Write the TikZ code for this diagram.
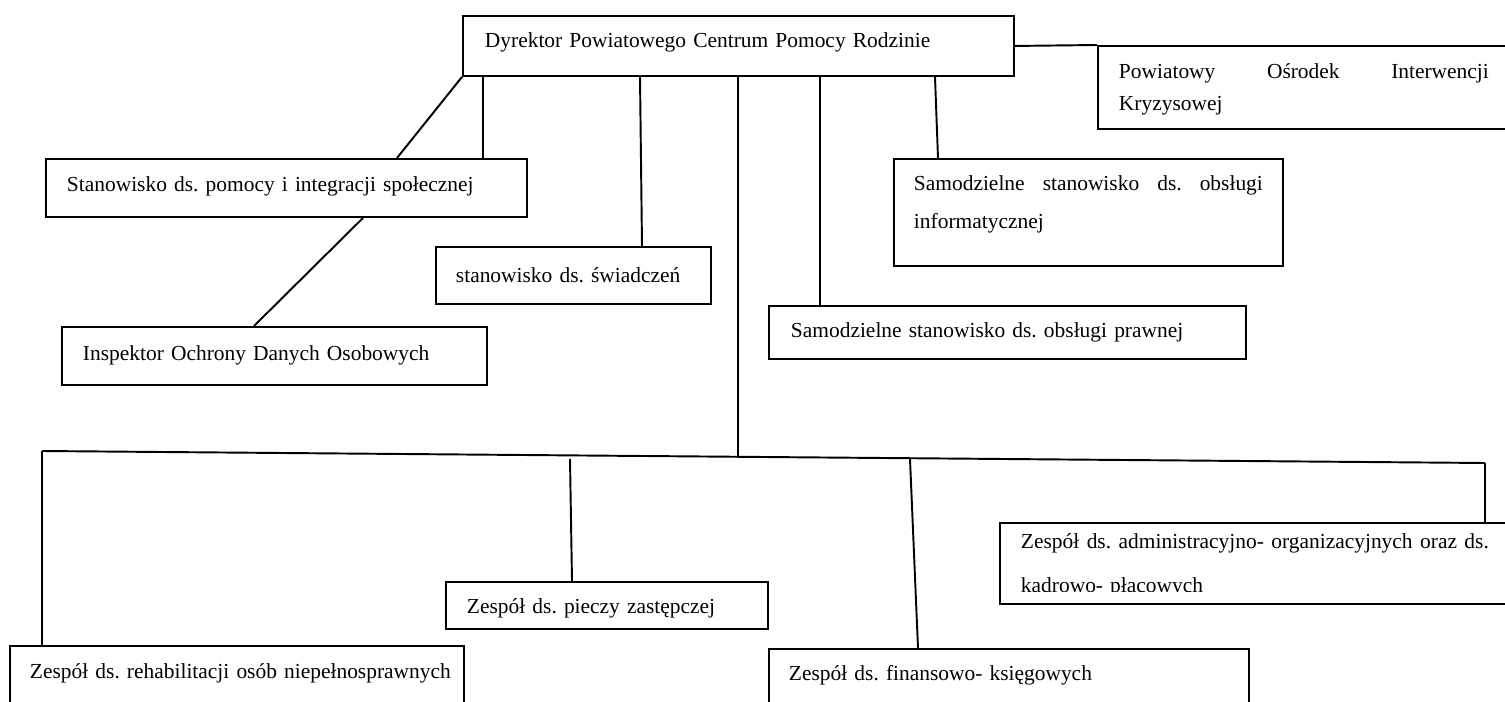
\documentclass[tikz,border=0pt]{standalone}
\usepackage{fontspec}
\setmainfont{Liberation Serif}
\usepackage{tikz}
\frenchspacing

\begin{document}
\begin{tikzpicture}[x=0.02cm,y=-0.02cm,line width=1.1pt,
    box/.style={draw,anchor=north west,inner ysep=0pt,font=\fontsize{12.2}{15}\selectfont}]
    \useasboundingbox (0,0) rectangle (1505,702);

    % upper level
    \node[box,inner xsep=0.44cm,text width=10.14cm,text height=0.64cm,text depth=0.56cm] (dyr) at (462,15) {Dyrektor Powiatowego Centrum Pomocy Rodzinie};
    \node[box,inner xsep=0.42cm,text width=7.4cm,text height=0.66cm,text depth=1.0cm,font=\fontsize{12.2}{18.2}\selectfont] (poik) at (1097,45) {Powiatowy\hfill Ośrodek\hfill Interwencji\\Kryzysowej};
    \node[box,inner xsep=0.42cm,text width=8.78cm,text height=0.66cm,text depth=0.5cm] (stpom) at (45,158) {Stanowisko ds. pomocy i integracji społecznej};
    \node[box,inner xsep=0.42cm,text width=7.66cm,text height=0.68cm,text depth=0.48cm] (insp) at (61,326) {Inspektor Ochrony Danych Osobowych};
    \node[box,inner xsep=0.4cm,text width=4.7cm,text height=0.72cm,text depth=0.42cm] (swiad) at (435,246) {stanowisko ds. świadczeń};
    \node[box,inner xsep=0.44cm,text width=8.66cm,text height=0.64cm,text depth=0.42cm] (praw) at (768,305) {Samodzielne stanowisko ds. obsługi prawnej};
    \node[box,inner xsep=0.4cm,text width=6.98cm,text height=0.64cm,text depth=1.5cm,font=\fontsize{12.2}{21.6}\selectfont] (info) at (893,158) {Samodzielne\hfill stanowisko\hfill ds.\hfill obsługi\\informatycznej};

    % lower level
    \node[box,inner xsep=0.42cm,text width=5.6cm,text height=0.64cm,text depth=0.3cm] (piecz) at (445,581) {Zespół ds. pieczy zastępczej};
    \node[box,inner xsep=0.4cm,text width=8.28cm,text height=0.66cm,text depth=2cm] (rehab) at (9,645) {\mbox{Zespół ds. rehabilitacji osób niepełnosprawnych}};
    \node[box,inner xsep=0.4cm,text width=8.8cm,text height=0.64cm,text depth=2cm] (fin) at (768,648) {Zespół ds. finansowo- księgowych};
    \begin{scope}
        \clip (990,510) rectangle (1520,591);
        \node[box,draw=none,inner xsep=0.4cm,text width=9.36cm,text height=0.5cm,text depth=1.08cm,font=\fontsize{12.2}{25}\selectfont] (admin) at (1000,523) {Zespół\hfill ds.\hfill administracyjno-\hfill organizacyjnych\hfill oraz\hfill ds.\\kadrowo- płacowych};
    \end{scope}
    \draw (admin.north west) rectangle (admin.south east);

    \coordinate (busL) at (42,451);
    \coordinate (busR) at (1485,463);
    \coordinate (bj) at (738,456);
    \coordinate (bp) at (570,459);
    \coordinate (bf) at (910,459);

    \draw (dyr.east) -- (poik.north west);
    \draw (dyr.south west) -- (397,0 |- stpom.north);
    \draw (483,0 |- dyr.south) -- (483,0 |- stpom.north);
    \draw (363,0 |- stpom.south) -- (254,0 |- insp.north);
    \draw (640,0 |- dyr.south) -- (642,0 |- swiad.north);
    \draw (820,0 |- dyr.south) -- (820,0 |- praw.north);
    \draw (935,0 |- dyr.south) -- (938,0 |- info.north);
    \draw (738,0 |- dyr.south) -- (bj);

    \draw (busL) -- (busR);
    \draw (busL) -- (busL |- rehab.north);
    \draw (bp) -- (572,0 |- piecz.north);
    \draw (bf) -- (918,0 |- fin.north);
    \draw (busR) -- (busR |- admin.north);
\end{tikzpicture}
\end{document}
